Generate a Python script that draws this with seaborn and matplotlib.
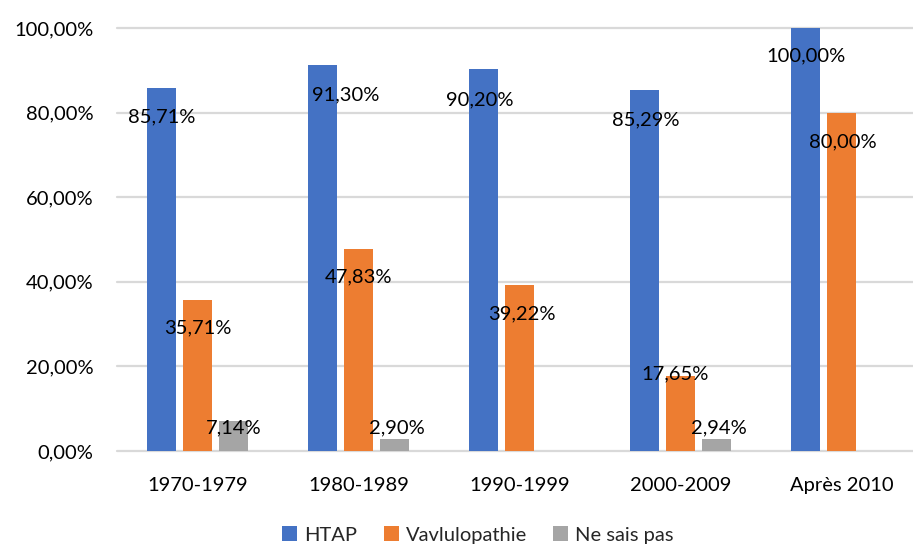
import matplotlib
matplotlib.use("Agg")
import matplotlib.pyplot as plt
import seaborn as sns
import pandas as pd
from matplotlib.ticker import FuncFormatter

categories = ["1970-1979", "1980-1989", "1990-1999", "2000-2009", "Après 2010"]
series = ["HTAP", "Vavlulopathie", "Ne sais pas"]
htap = [85.71, 91.30, 90.20, 85.29, 100.00]
valvulo = [35.71, 47.83, 39.22, 17.65, 80.00]
nsp = [7.14, 2.90, 0.0, 2.94, 0.0]
colors = ["#4472C4", "#ED7D31", "#A5A5A5"]

# label offsets in pixels (dx, dy downward from bar top)
label_offsets = [
    [(0, 28), (23, 30), (-4, 30), (1, 30), (0, 28)],
    [(0, 28), (0, 28), (2, 29), (-5, -2), (1, 29)],
    [(0, 7), (2, -11), (0, 0), (2, -11), (0, 0)],
]

values = [htap, valvulo, nsp]
rows = []
for s, vals in zip(series, values):
    for c, v in zip(categories, vals):
        rows.append({"cat": c, "serie": s, "val": v})
df = pd.DataFrame(rows)

sns.set_style("white")
plt.rcParams["font.family"] = ["Lato", "DejaVu Sans"]
FS = 14.5

fig = plt.figure(figsize=(9.13, 5.47), dpi=100)
ax = fig.add_axes([117 / 913, 96 / 547, 805 / 913, 423 / 547])

sns.barplot(data=df, x="cat", y="val", hue="serie", order=categories,
            hue_order=series, palette=colors, width=0.671, gap=0.22,
            saturation=1, ax=ax, legend=True, linewidth=0)

ax.set_ylim(0, 100)
ax.set_xlim(-0.5, 4.5)
ax.set_yticks([0, 20, 40, 60, 80, 100])
ax.yaxis.set_major_formatter(FuncFormatter(lambda v, p: f"{v:.2f}%".replace(".", ",")))
ax.grid(axis="y", color="#d9d9d9", linewidth=1.6)
ax.set_axisbelow(True)
for sp in ax.spines.values():
    sp.set_visible(False)
ax.tick_params(axis="both", length=0, labelsize=FS, colors="black")
ax.tick_params(axis="x", pad=19)
ax.tick_params(axis="y", pad=17)
ax.set_xlabel("")
ax.set_ylabel("")
for gl in ax.get_ygridlines():
    gl.set_clip_on(False)

for i, cont in enumerate(ax.containers):
    for j, bar in enumerate(cont):
        v = values[i][j]
        if v <= 0:
            continue
        dx, dy = label_offsets[i][j]
        cx = bar.get_x() + bar.get_width() / 2
        ax.annotate(f"{v:.2f}%".replace(".", ","), xy=(cx, v),
                    xytext=(dx, -dy), textcoords="offset pixels",
                    ha="center", va="center", fontsize=FS, color="black")

ax.legend(loc="center", bbox_to_anchor=(478 / 913, 535 / 547 * 0 + 12 / 547),
          bbox_transform=fig.transFigure, ncol=3, frameon=False, fontsize=FS,
          handlelength=0.75, handleheight=0.75, handletextpad=0.35, columnspacing=1.3,
          borderaxespad=0)
fig.savefig("out.png", dpi=100)
